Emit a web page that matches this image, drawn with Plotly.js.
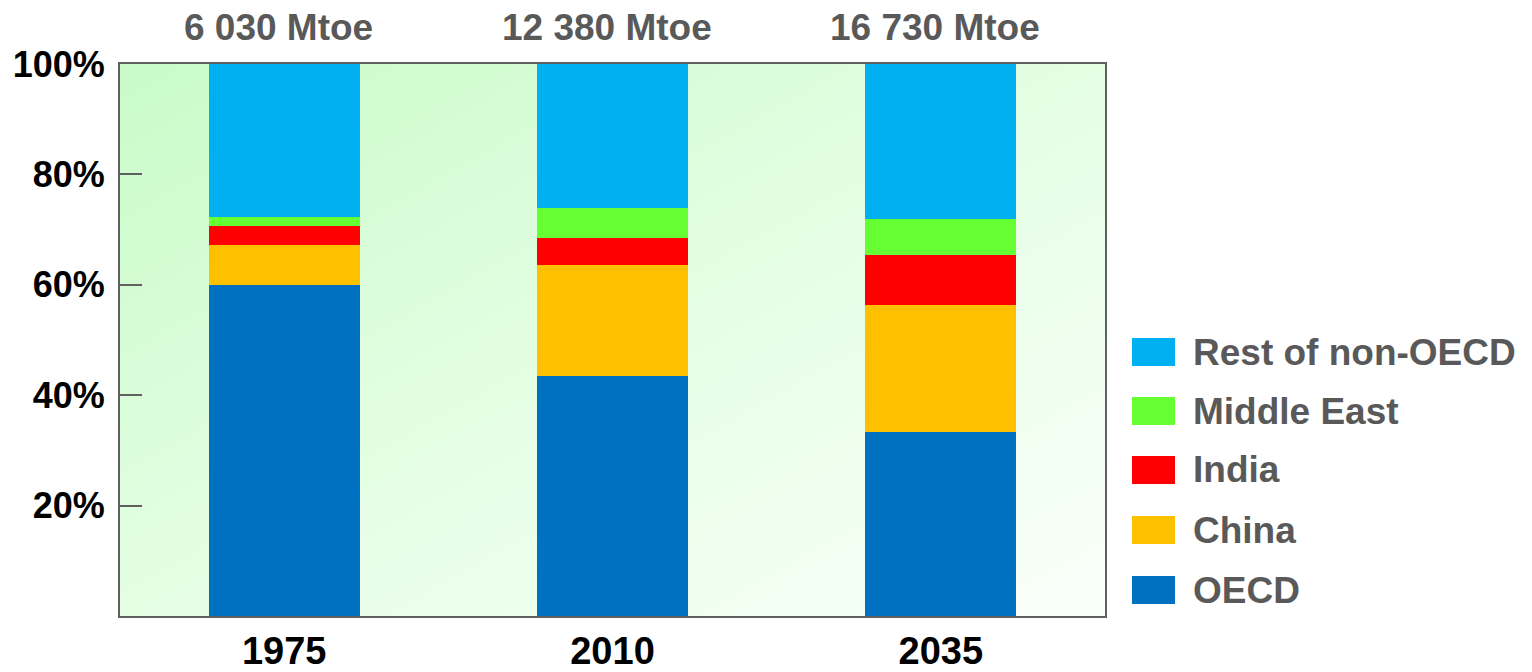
<!DOCTYPE html>
<html>
<head>
<meta charset="utf-8">
<script src="https://cdn.plot.ly/plotly-3.0.1.min.js"></script>
<style>html,body{margin:0;padding:0;background:#fff;}#chart{width:1532px;height:672px;}</style>
</head>
<body>
<div id="chart"></div>
<script>
// ---- data ----
const years = ["1975", "2010", "2035"];
const totalsMtoe = [6030, 12380, 16730];
const seriesNames = ["OECD", "China", "India", "Middle East", "Rest of non-OECD"];
const oecd = [60.0, 43.5, 33.4];
const china = [7.2, 20.1, 22.9];
const india = [3.4, 4.8, 9.1];
const middleEast = [1.6, 5.6, 6.5];
const restNonOecd = [27.8, 26.0, 28.1];
const yTicks = [20, 40, 60, 80, 100];

// ---- styles ----
const colors = ["#0070C0", "#FFC000", "#FF0000", "#66FF33", "#00B0F0"];
const seriesValues = [oecd, china, india, middleEast, restNonOecd];
const FONT = "Liberation Sans, Arial, sans-serif";
const GREY = "#595959";

const traces = seriesValues.map((vals, i) => ({
  type: "bar",
  name: seriesNames[i],
  x: years,
  y: vals,
  width: 0.46,
  marker: {color: colors[i], line: {width: 0}},
  hoverinfo: "name+y"
}));

function fmt(n) {
  return String(n).replace(/\B(?=(\d{3})+(?!\d))/g, " ") + " Mtoe";
}

const plotL = 120, plotR = 1105, plotT = 64, plotB = 616;
const pw = plotR - plotL, ph = plotB - plotT;

const annotations = years.map((yr, i) => ({
  x: (i + 0.5) / years.length, xref: "paper",
  xshift: -6,
  y: (plotB - 28) / ph, yref: "paper",
  xanchor: "center", yanchor: "middle",
  text: "<b>" + fmt(totalsMtoe[i]) + "</b>",
  showarrow: false,
  font: {family: FONT, size: 37, color: GREY}
}));

// custom legend (top = last series)
const legendRows = [352, 411, 470, 530, 590];
const shapes = [];
for (let k = 0; k < seriesNames.length; k++) {
  const idx = seriesNames.length - 1 - k;
  const cy = legendRows[k];
  shapes.push({
    type: "rect", xref: "paper", yref: "paper", layer: "above",
    x0: (1132 - plotL) / pw, x1: (1175 - plotL) / pw,
    y0: (plotB - (cy + 14)) / ph, y1: (plotB - (cy - 14)) / ph,
    fillcolor: colors[idx], line: {width: 0}
  });
  annotations.push({
    xref: "paper", yref: "paper",
    x: (1191 - plotL) / pw, xanchor: "left",
    y: (plotB - cy) / ph, yanchor: "middle",
    text: "<b>" + seriesNames[idx] + "</b>",
    showarrow: false,
    font: {family: FONT, size: 37, color: GREY}
  });
}

const gradSvg = '<svg xmlns="http://www.w3.org/2000/svg" width="100" height="100" preserveAspectRatio="none">' +
  '<defs><linearGradient id="g" x1="0" y1="0" x2="1" y2="1">' +
  '<stop offset="0" stop-color="#C8FBC8"/><stop offset="0.5" stop-color="#E4FEE4"/><stop offset="1" stop-color="#FAFFFA"/>' +
  '</linearGradient></defs><rect width="100" height="100" fill="url(#g)"/></svg>';

const layout = {
  width: 1532, height: 672,
  margin: {l: plotL, r: 1532 - plotR, t: plotT, b: 672 - plotB, pad: 0},
  barmode: "stack",
  showlegend: false,
  paper_bgcolor: "#ffffff",
  plot_bgcolor: "rgba(0,0,0,0)",
  font: {family: FONT},
  images: [{
    source: "data:image/svg+xml;charset=utf-8," + encodeURIComponent(gradSvg),
    xref: "paper", yref: "paper", x: 0, y: 1, sizex: 1, sizey: 1,
    xanchor: "left", yanchor: "top", sizing: "stretch", layer: "below"
  }],
  xaxis: {
    type: "category",
    range: [-0.5, 2.5],
    showgrid: false, zeroline: false,
    showline: true, mirror: true, linecolor: "#606060", linewidth: 2,
    ticks: "",
    ticklabelstandoff: 0,
    tickfont: {family: FONT, size: 38, color: "#000000", weight: "bold"}
  },
  yaxis: {
    range: [0, 100],
    tickmode: "array",
    tickvals: yTicks,
    ticktext: yTicks.map(v => v + "%"),
    showgrid: false, zeroline: false,
    showline: true, mirror: true, linecolor: "#606060", linewidth: 2,
    ticks: "inside", ticklen: 22, tickwidth: 2, tickcolor: "#606060",
    ticklabelstandoff: 6,
    tickfont: {family: FONT, size: 36, color: "#000000", weight: "bold"}
  },
  annotations: annotations,
  shapes: shapes
};

Plotly.newPlot("chart", traces, layout, {displayModeBar: false, staticPlot: true});
</script>
</body>
</html>
